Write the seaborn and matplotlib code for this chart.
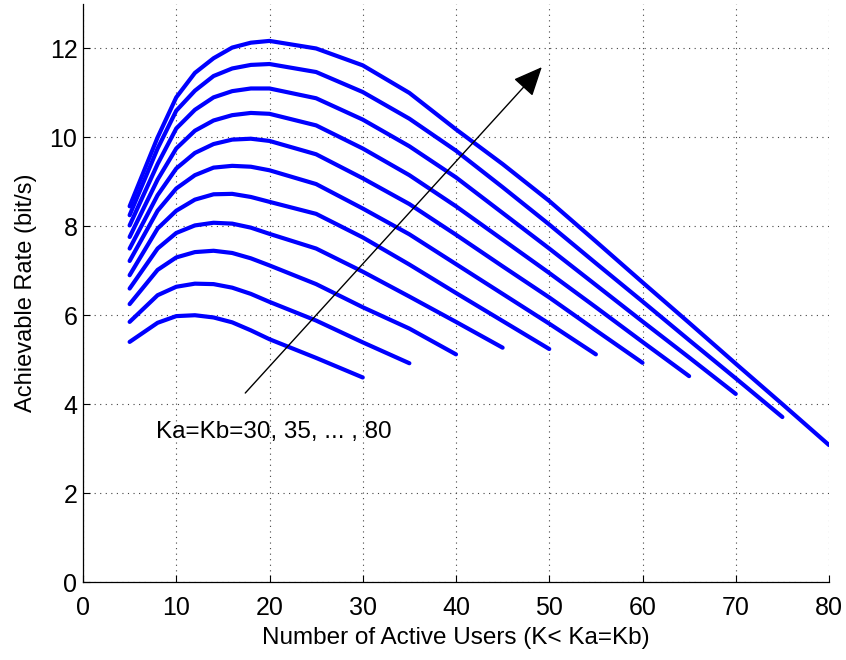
import matplotlib
matplotlib.use("Agg")
import matplotlib.pyplot as plt
import seaborn as sns
import pandas as pd

# Number of active users at which each rate curve is evaluated
k_grid = [5, 8, 10, 12, 14, 16, 18, 20, 25, 30, 35, 40, 45, 50, 55, 60, 65, 70, 75, 80]

# Ka = Kb values, one curve each
ka_values = [30, 35, 40, 45, 50, 55, 60, 65, 70, 75, 80]

# Achievable rate (bit/s) for K = 5 ... Ka
rate_ka30 = [5.40, 5.83, 5.98, 6.00, 5.95, 5.84, 5.66, 5.46, 5.04, 4.60]
rate_ka35 = [5.85, 6.45, 6.64, 6.71, 6.70, 6.62, 6.48, 6.30, 5.88, 5.39, 4.92]
rate_ka40 = [6.25, 7.02, 7.30, 7.42, 7.45, 7.40, 7.28, 7.12, 6.70, 6.18, 5.70, 5.12]
rate_ka45 = [6.60, 7.50, 7.85, 8.02, 8.08, 8.06, 7.97, 7.83, 7.50, 6.98, 6.42, 5.85, 5.27]
rate_ka50 = [6.90, 7.95, 8.35, 8.60, 8.72, 8.73, 8.66, 8.55, 8.28, 7.75, 7.14, 6.50, 5.87, 5.24]
rate_ka55 = [7.22, 8.35, 8.85, 9.15, 9.32, 9.36, 9.34, 9.26, 8.95, 8.40, 7.82, 7.15, 6.48,
             5.81, 5.12]
rate_ka60 = [7.50, 8.70, 9.30, 9.65, 9.85, 9.95, 9.97, 9.92, 9.62, 9.08, 8.50, 7.81, 7.10,
             6.40, 5.66, 4.93]
rate_ka65 = [7.76, 9.05, 9.75, 10.15, 10.38, 10.50, 10.55, 10.53, 10.27, 9.75, 9.15, 8.45,
             7.70, 6.95, 6.18, 5.40, 4.63]
rate_ka70 = [8.02, 9.40, 10.20, 10.62, 10.90, 11.04, 11.10, 11.10, 10.88, 10.40, 9.80, 9.10,
             8.30, 7.50, 6.68, 5.86, 5.05, 4.23]
rate_ka75 = [8.25, 9.75, 10.60, 11.05, 11.38, 11.55, 11.63, 11.65, 11.47, 11.02, 10.42, 9.70,
             8.88, 8.04, 7.17, 6.31, 5.44, 4.58, 3.71]
rate_ka80 = [8.45, 10.00, 10.90, 11.45, 11.78, 12.02, 12.13, 12.17, 12.00, 11.62, 11.00,
             10.18, 9.40, 8.57, 7.66, 6.74, 5.83, 4.91, 4.00, 3.08]

rates = [rate_ka30, rate_ka35, rate_ka40, rate_ka45, rate_ka50, rate_ka55,
         rate_ka60, rate_ka65, rate_ka70, rate_ka75, rate_ka80]

x_ticks = [0, 10, 20, 30, 40, 50, 60, 70, 80]
y_ticks = [0, 2, 4, 6, 8, 10, 12]

rows = []
for ka, r in zip(ka_values, rates):
    for k, v in zip(k_grid[:len(r)], r):
        rows.append({"K": k, "Rate": v, "Ka": ka})
df = pd.DataFrame(rows)

sns.set_theme(style="white")
plt.rcParams["font.family"] = ["Liberation Sans", "DejaVu Sans"]

fig = plt.figure(figsize=(8.46, 6.60), dpi=100)
ax = fig.add_axes([83 / 846, 78 / 660, 746 / 846, 578 / 660])

sns.lineplot(data=df, x="K", y="Rate", hue="Ka", units="Ka", estimator=None,
             palette=["#0000ff"] * len(ka_values), linewidth=3.0, sort=False,
             legend=False, ax=ax)

ax.set_xlim(0, 80)
ax.set_ylim(0, 13)
ax.set_xticks(x_ticks)
ax.set_yticks(y_ticks)
ax.tick_params(axis="both", direction="in", length=5, width=0.8, colors="black",
               labelsize=18, top=False, right=False, left=True, bottom=True)
ax.tick_params(axis="x", pad=10)
ax.tick_params(axis="y", pad=4)
for side in ["top", "right"]:
    ax.spines[side].set_visible(False)
for side in ["left", "bottom"]:
    ax.spines[side].set_color("black")
    ax.spines[side].set_linewidth(0.9)

ax.grid(True, color="#444444", linestyle=(0, (1, 4)), linewidth=0.8)
ax.set_axisbelow(True)

ax.set_xlabel("Number of Active Users (K< Ka=Kb)", fontsize=17.5, color="black", labelpad=5)
ax.set_ylabel("Achievable Rate (bit/s)", fontsize=17, color="black", labelpad=9)

ax.annotate("", xy=(49.2, 11.58), xytext=(17.4, 4.25),
            arrowprops=dict(arrowstyle="-|>,head_length=0.9,head_width=0.4",
                            color="black", lw=1.0, shrinkA=0, shrinkB=0,
                            mutation_scale=20))
ax.text(7.8, 3.37, "Ka=Kb=30, 35, ... , 80", fontsize=17.5, color="black",
        ha="left", va="center")

fig.savefig("out.png", dpi=100, facecolor="white")
